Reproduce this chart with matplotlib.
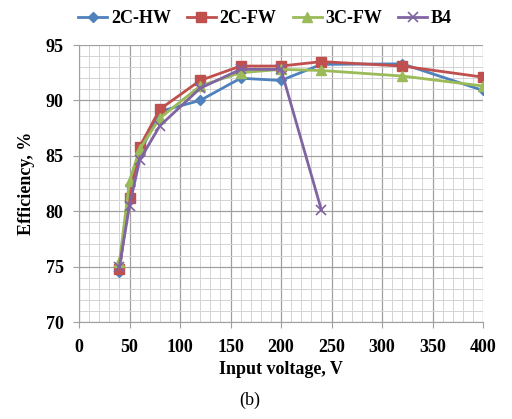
import numpy as np
import matplotlib
matplotlib.use('Agg')
import matplotlib.pyplot as plt
from matplotlib.ticker import MultipleLocator

# data
voltage = [40, 50, 60, 80, 120, 160, 200, 240, 320, 400]
hw2c = [74.5, 82.4, 85.2, 89.0, 90.0, 92.0, 91.8, 93.25, 93.3, 90.9]
fw2c = [74.8, 81.2, 85.8, 89.2, 91.8, 93.1, 93.1, 93.5, 93.1, 92.1]
fw3c = [75.4, 82.7, 85.6, 88.4, 91.3, 92.5, 92.8, 92.7, 92.2, 91.3]
b4_voltage = [40, 50, 60, 80, 120, 160, 200, 240]
b4 = [75.0, 80.5, 84.6, 87.7, 91.1, 92.8, 92.8, 80.1]

plt.rcParams['font.family'] = ['Liberation Serif', 'DejaVu Serif']

fig = plt.figure(figsize=(5.12, 4.19), dpi=100)
ax = fig.add_axes([79/512, 1-322/419, (483-79)/512, (322-45)/419])

ax.plot(voltage, hw2c, color='#4F81BD', marker='D', markersize=5.5, lw=2, label='2C-HW')
ax.plot(voltage, fw2c, color='#C0504D', marker='s', markersize=6.5, lw=2, label='2C-FW')
ax.plot(voltage, fw3c, color='#9BBB59', marker='^', markersize=6.5, lw=2, label='3C-FW')
ax.plot(b4_voltage, b4, color='#8064A2', marker='x', markersize=7, lw=2, mew=1.2, label='B4')

ax.set_xlim(0, 400)
ax.set_ylim(70, 95)
ax.xaxis.set_major_locator(MultipleLocator(50))
ax.xaxis.set_minor_locator(MultipleLocator(10))
ax.yaxis.set_major_locator(MultipleLocator(5))
ax.yaxis.set_minor_locator(MultipleLocator(1))
ax.grid(which='major', color='#a0a0a0', lw=0.9)
ax.grid(which='minor', color='#d4d4d4', lw=0.7)
ax.set_axisbelow(True)
for s in ax.spines.values():
    s.set_visible(False)
ax.spines['left'].set_visible(True)
ax.spines['bottom'].set_visible(True)
ax.spines['left'].set_color('#a0a0a0')
ax.spines['bottom'].set_color('#a0a0a0')
ax.tick_params(which='major', length=4, color='#a0a0a0', labelsize=13)
ax.tick_params(axis='x', pad=8)
ax.tick_params(axis='y', pad=7)
ax.tick_params(which='minor', length=0)
for lab in ax.get_xticklabels() + ax.get_yticklabels():
    lab.set_fontweight('bold')

ax.set_xlabel('Input voltage, V', fontsize=13, fontweight='bold', labelpad=4)
ax.set_ylabel('Efficiency, %', fontsize=13, fontweight='bold', labelpad=8)

fig.legend(loc='upper left', bbox_to_anchor=(62/512, 1.015), ncol=4, frameon=False,
           prop={'size': 13, 'weight': 'bold'}, handlelength=1.6, handletextpad=0.2,
           columnspacing=0.9)

fig.text(250/512, 1-400/419, '(b)', fontsize=13, ha='center', va='center')

fig.savefig('out.png', dpi=100)
